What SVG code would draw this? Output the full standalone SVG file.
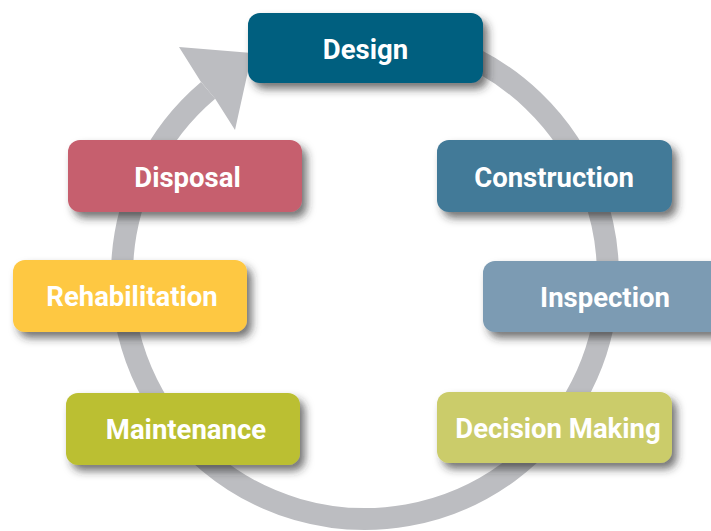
<svg xmlns="http://www.w3.org/2000/svg" width="711" height="531" viewBox="0 0 711 531">
<defs>
<filter id="sh" x="-20%" y="-30%" width="150%" height="180%">
<feDropShadow dx="5" dy="6" stdDeviation="4" flood-color="#2a2a2a" flood-opacity="0.65"/>
</filter>
<style>
.box{filter:url(#sh)}
.lbl{font-family:Roboto,"Liberation Sans",Arial,sans-serif;font-weight:700;font-size:27.5px;fill:#ffffff;text-anchor:middle;dominant-baseline:central}
.ring{fill:none;stroke:#bcbdc1;stroke-width:22}
</style>
</defs>
<rect width="711" height="531" fill="#ffffff"/>
<g id="connectors">
<path class="ring" d="M448.1,47.7 A243,243 0 1 1 208.1,90.4"/>
<polygon points="200.7,81.6 179,47 252,53 235,130 215.5,99.2" fill="#bcbdc1"/>
</g>
<g id="design"><rect class="box" x="248" y="13" width="235" height="70" rx="12" fill="#005f7f"/><text class="lbl" x="365.5" y="49">Design</text></g>
<g id="construction"><rect class="box" x="437" y="140" width="235" height="72" rx="12" fill="#437a98"/><text class="lbl" x="554" y="177">Construction</text></g>
<g id="inspection"><rect class="box" x="483" y="261" width="240" height="71" rx="12" fill="#7b9bb3"/><text class="lbl" x="605" y="297">Inspection</text></g>
<g id="decision-making"><rect class="box" x="437" y="392" width="235" height="71" rx="12" fill="#cbcc6b"/><text class="lbl" x="558" y="428">Decision Making</text></g>
<g id="maintenance"><rect class="box" x="66" y="393" width="234" height="72" rx="12" fill="#bbbf33"/><text class="lbl" x="186" y="429">Maintenance</text></g>
<g id="rehabilitation"><rect class="box" x="13" y="260" width="234" height="72" rx="12" fill="#fec843"/><text class="lbl" x="132" y="296">Rehabilitation</text></g>
<g id="disposal"><rect class="box" x="68" y="140" width="234" height="72" rx="12" fill="#c65f6e"/><text class="lbl" x="187.5" y="177">Disposal</text></g>
</svg>
